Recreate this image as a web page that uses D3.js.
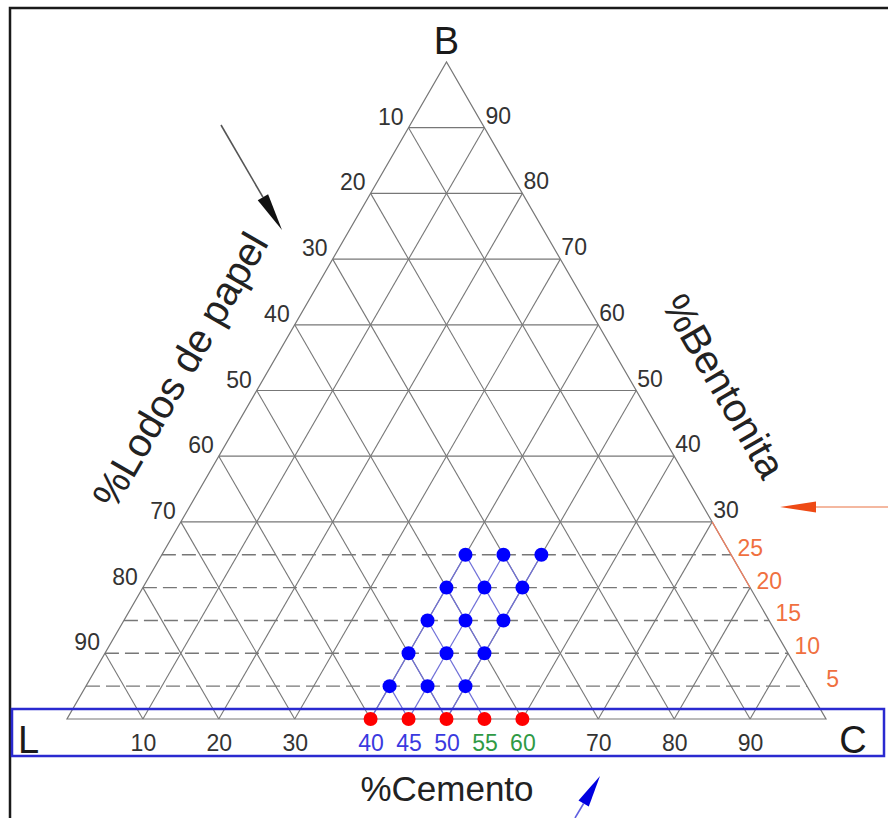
<!DOCTYPE html>
<html>
<head>
<meta charset="utf-8">
<script src="https://cdn.jsdelivr.net/npm/d3@7"></script>
<style>
  html, body { margin: 0; padding: 0; background: #fff; }
  svg { display: block; font-family: "Liberation Sans", Arial, sans-serif; }
</style>
</head>
<body>
<svg id="chart" width="888" height="818"></svg>
<script>
// grid ticks (percent)
var gridTicks = [10, 20, 30, 40, 50, 60, 70, 80, 90];
var solidLevels = [30, 40, 50, 60, 70, 80, 90];
var dashedLevels = [5, 10, 15, 20, 25];
var lodosTicks = [10, 20, 30, 40, 50, 60, 70, 80, 90];
var bentonitaTicks = [30, 40, 50, 60, 70, 80, 90];
var bentonitaFine = [5, 10, 15, 20, 25];
var cementoTicks = [10, 20, 30, 40, 45, 50, 55, 60, 70, 80, 90];

// mixes
var baseCemento = [40, 45, 50, 55, 60];          // red points, 0% bentonita
var mixBentonita = [5, 10, 15, 20, 25];          // blue points rows
var mixCemento = [40, 45, 50];                   // blue points columns

var svg = d3.select("#chart");

// C = %cemento, B = %bentonita
var x = d3.scaleLinear().domain([0, 100]).range([67, 826]);
var y = d3.scaleLinear().domain([0, 100]).range([719, 62]);
function px(c, b) { return x(c + b / 2); }
function py(b) { return y(b); }

var gray = "#777";
var line = d3.line().x(function(d) { return px(d[0], d[1]); }).y(function(d) { return py(d[1]); });

// frame
svg.append("rect")
  .attr("x", 10).attr("y", 8).attr("width", 900).attr("height", 830)
  .attr("fill", "none").attr("stroke", "#1a1a1a").attr("stroke-width", 2.5);

var g = svg.append("g");

// lines of constant cemento
g.selectAll(".cl").data(gridTicks).enter().append("path")
  .attr("d", function(k) { return line([[k, 0], [k, 100 - k]]); })
  .attr("stroke", gray).attr("stroke-width", 1.1).attr("fill", "none");

// lines of constant lodos
g.selectAll(".ll").data(gridTicks).enter().append("path")
  .attr("d", function(k) { return line([[100 - k, 0], [0, 100 - k]]); })
  .attr("stroke", gray).attr("stroke-width", 1.1).attr("fill", "none");

// horizontal bentonita lines
g.selectAll(".bl").data(solidLevels).enter().append("path")
  .attr("d", function(k) { return line([[0, k], [100 - k, k]]); })
  .attr("stroke", gray).attr("stroke-width", 1.2).attr("fill", "none");

g.selectAll(".bd").data(dashedLevels).enter().append("path")
  .attr("d", function(k) { return line([[0, k], [100 - k, k]]); })
  .attr("stroke", gray).attr("stroke-width", 1.4).attr("fill", "none")
  .attr("stroke-dasharray", "14,6");

// triangle outline
g.append("path")
  .attr("d", line([[0, 0], [100, 0], [0, 100]]) + "Z")
  .attr("stroke", gray).attr("stroke-width", 1.2).attr("fill", "none");

// orange part of right edge
g.append("path")
  .attr("d", line([[70, 30], [80, 20]]))
  .attr("stroke", "#f08060").attr("stroke-width", 1.2).attr("fill", "none");

// points
var bluePts = [];
mixBentonita.forEach(function(b) { mixCemento.forEach(function(c) { bluePts.push([c, b]); }); });
var redPts = baseCemento.map(function(c) { return [c, 0]; });
var allPts = bluePts.concat(redPts);
function has(c, b) { return allPts.some(function(p) { return p[0] === c && p[1] === b; }); }

// connectors between neighbouring mixes
var links = [];
bluePts.forEach(function(p) {
  if (has(p[0], p[1] - 5)) links.push([p, [p[0], p[1] - 5]]);
  if (has(p[0] + 5, p[1] - 5)) links.push([p, [p[0] + 5, p[1] - 5]]);
});
g.selectAll(".lk").data(links).enter().append("path")
  .attr("d", line)
  .attr("stroke", "#7070d8").attr("stroke-width", 1.2).attr("fill", "none");

// highlight box
svg.append("rect")
  .attr("x", 12).attr("y", 709).attr("width", 872).attr("height", 47)
  .attr("fill", "none").attr("stroke", "#2a2ad0").attr("stroke-width", 2.5);

svg.selectAll(".bp").data(bluePts).enter().append("circle")
  .attr("cx", function(d) { return px(d[0], d[1]); })
  .attr("cy", function(d) { return py(d[1]); })
  .attr("r", 7).attr("fill", "#0000ff");

svg.selectAll(".rp").data(redPts).enter().append("circle")
  .attr("cx", function(d) { return px(d[0], d[1]); })
  .attr("cy", function(d) { return py(d[1]); })
  .attr("r", 7).attr("fill", "#ff0000");

// tick labels
var tick = svg.append("g").attr("font-size", 23).attr("fill", "#333");

tick.selectAll(".lt").data(lodosTicks).enter().append("text")
  .attr("x", function(k) { return px(0, 100 - k) - 5; })
  .attr("y", function(k) { return py(100 - k) - 3; })
  .attr("text-anchor", "end")
  .text(function(k) { return k; });

tick.selectAll(".rt").data(bentonitaTicks).enter().append("text")
  .attr("x", function(k) { return px(100 - k, k) + 1; })
  .attr("y", function(k) { return py(k) - 4; })
  .attr("text-anchor", "start")
  .text(function(k) { return k; });

tick.selectAll(".ot").data(bentonitaFine).enter().append("text")
  .attr("x", function(k) { return px(100 - k, k) + 32; })
  .attr("y", function(k) { return py(k) + 1; })
  .attr("text-anchor", "end")
  .attr("fill", "#f07040")
  .text(function(k) { return k; });

var axis = svg.append("g")
  .attr("transform", "translate(0," + (py(0) + 16) + ")")
  .call(d3.axisBottom(x).tickValues(cementoTicks).tickSize(0).tickPadding(0));
axis.select(".domain").remove();
axis.selectAll("text")
  .attr("font-size", 23)
  .attr("font-family", "Liberation Sans, Arial, sans-serif")
  .attr("dy", "0.71em")
  .attr("fill", function(k) {
    if (k >= 40 && k <= 50) return "#3a3ae0";
    if (k >= 55 && k <= 60) return "#2f9a45";
    return "#333";
  });

// vertex and axis titles
svg.append("text").attr("x", px(0, 100)).attr("y", 54).attr("text-anchor", "middle")
  .attr("font-size", 38).attr("fill", "#1a1a1a").text("B");
svg.append("text").attr("x", 18).attr("y", 753)
  .attr("font-size", 38).attr("fill", "#1a1a1a").text("L");
svg.append("text").attr("x", 853).attr("y", 753).attr("text-anchor", "middle")
  .attr("font-size", 38).attr("fill", "#1a1a1a").text("C");

svg.append("text").attr("x", 447).attr("y", 801).attr("text-anchor", "middle")
  .attr("font-size", 35).attr("fill", "#222").text("%Cemento");

svg.append("text")
  .attr("transform", "translate(180,370) rotate(-60)")
  .attr("text-anchor", "middle").attr("dominant-baseline", "central")
  .attr("font-size", 40).attr("fill", "#222").text("%Lodos de papel");

svg.append("text")
  .attr("transform", "translate(724,386) rotate(60)")
  .attr("text-anchor", "middle").attr("dominant-baseline", "central")
  .attr("font-size", 40).attr("fill", "#222").text("%Bentonita");

// arrows
function arrow(x1, y1, x2, y2, color, lineColor, headLen, headW) {
  var ang = Math.atan2(y2 - y1, x2 - x1);
  var bx = x2 - headLen * Math.cos(ang), by = y2 - headLen * Math.sin(ang);
  var nx = -Math.sin(ang) * headW / 2, ny = Math.cos(ang) * headW / 2;
  svg.append("line").attr("x1", x1).attr("y1", y1).attr("x2", bx).attr("y2", by)
    .attr("stroke", lineColor).attr("stroke-width", 1.6);
  svg.append("path")
    .attr("d", "M" + x2 + "," + y2 + "L" + (bx + nx) + "," + (by + ny) + "L" + (bx - nx) + "," + (by - ny) + "Z")
    .attr("fill", color);
}
arrow(221, 125, 282, 230, "#111", "#555", 38, 12);
arrow(888, 507, 780, 507, "#ee4a15", "#f0a080", 36, 11);
arrow(575, 818, 600, 776, "#0000e0", "#6060e0", 32, 12);
</script>
</body>
</html>
